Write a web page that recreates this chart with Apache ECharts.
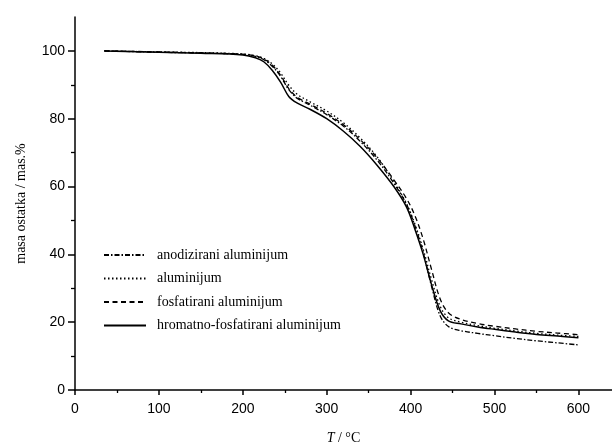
<!DOCTYPE html>
<html>
<head>
<meta charset="utf-8">
<script src="https://cdn.jsdelivr.net/npm/echarts@6/dist/echarts.min.js"></script>
<style>html,body{margin:0;padding:0;background:#fff}#c{width:612px;height:445px}</style>
</head>
<body>
<div id="c"></div>
<script>
// Temperature (°C)
var temperature = [35, 100, 150, 200, 215, 225, 235, 245, 255, 265, 280, 300, 320, 340, 360, 380, 395, 405, 415, 425, 435, 445, 460, 480, 500, 525, 550, 575, 600];
// Residual mass (mas.%)
var anodizirani = [100, 99.6, 99.4, 99.0, 98.4, 97.4, 95.5, 92.5, 88.5, 86.0, 84.0, 81.2, 77.8, 73.3, 67.8, 61.0, 54.8, 48.5, 40.5, 30.5, 22.0, 18.7, 17.5, 16.7, 16.0, 15.2, 14.5, 13.9, 13.3];
var aluminijum = [100, 99.7, 99.5, 99.1, 98.6, 97.8, 96.2, 93.5, 89.8, 87.2, 85.0, 82.3, 78.8, 74.3, 68.8, 61.5, 55.0, 49.0, 41.5, 32.5, 24.8, 21.3, 20.0, 19.0, 18.2, 17.4, 16.7, 16.2, 15.8];
var fosfatirani = [100, 99.7, 99.4, 99.0, 98.5, 97.6, 95.8, 92.8, 88.8, 86.3, 84.3, 81.6, 78.2, 73.8, 68.5, 62.0, 56.5, 51.5, 44.5, 35.5, 27.0, 22.8, 20.8, 19.6, 18.8, 18.0, 17.3, 16.8, 16.3];
var hromatno = [100, 99.6, 99.3, 98.8, 98.0, 96.8, 94.3, 90.8, 86.5, 84.6, 82.8, 80.0, 76.3, 71.8, 66.3, 60.0, 54.0, 47.5, 40.0, 31.0, 23.5, 20.4, 19.5, 18.6, 17.9, 17.1, 16.4, 15.9, 15.4];
var seriesNames = ['anodizirani aluminijum', 'aluminijum', 'fosfatirani aluminijum', 'hromatno-fosfatirani aluminijum'];
var xTicks = [0, 100, 200, 300, 400, 500, 600];
var xMinorTicks = [50, 150, 250, 350, 450, 550];
var yTicks = [0, 20, 40, 60, 80, 100];
var yMinorTicks = [10, 30, 50, 70, 90];

function pairs(vals) { return temperature.map(function (t, i) { return [t, vals[i]]; }); }

var chart = echarts.init(document.getElementById('c'), null, {renderer: 'canvas'});
var lab = {color: '#000', fontFamily: 'Liberation Sans, Arial, sans-serif', fontSize: 14};
var axLine = {show: true, lineStyle: {color: '#000', width: 1.5}};
var styles = [
  {type: [5, 2, 1.5, 2], width: 1.3},
  {type: [1.5, 2.5], width: 1.3},
  {type: [5, 3.5], width: 1.3},
  {type: 'solid', width: 1.5}
];
var datas = [anodizirani, aluminijum, fosfatirani, hromatno];

chart.setOption({
  animation: false,
  backgroundColor: '#fff',
  grid: {left: 75, right: 0, top: 17, bottom: 55, containLabel: false, outerBoundsMode: 'none'},
  legend: {
    orient: 'vertical', left: 98, top: 243,
    itemWidth: 42, itemHeight: 14, itemGap: 9.5,
    itemStyle: {color: 'rgba(0,0,0,0)', borderWidth: 0, opacity: 0},
    textStyle: {color: '#000', fontFamily: 'Liberation Serif, Times New Roman, serif', fontSize: 14, lineHeight: 14, padding: [0, 0, 0, 6]},
    data: seriesNames
  },
  xAxis: [{
    type: 'value', min: 0, max: 640, position: 'bottom',
    name: '{i|T} / °C', nameLocation: 'middle', nameGap: 41,
    nameTextStyle: {color: '#000', fontFamily: 'Liberation Serif, Times New Roman, serif', fontSize: 14,
      rich: {i: {fontStyle: 'italic', fontFamily: 'Liberation Serif, Times New Roman, serif', fontSize: 14, color: '#000'}}},
    axisLine: axLine,
    axisTick: {show: true, inside: false, length: 5, customValues: xTicks, lineStyle: {color: '#000', width: 1.5}},
    axisLabel: Object.assign({margin: 12, customValues: xTicks}, lab),
    splitLine: {show: false}
  }, {
    type: 'value', min: 0, max: 640, position: 'bottom', offset: 0,
    axisLine: {show: false},
    axisTick: {show: true, inside: false, length: 3, customValues: xMinorTicks, lineStyle: {color: '#000', width: 1.3}},
    axisLabel: {show: false},
    splitLine: {show: false}
  }],
  yAxis: [{
    type: 'value', min: 0, max: 110, position: 'left',
    name: 'masa ostatka / mas.%', nameLocation: 'middle', nameGap: 47,
    nameTextStyle: {color: '#000', fontFamily: 'Liberation Serif, Times New Roman, serif', fontSize: 14},
    axisLine: axLine,
    axisTick: {show: true, inside: false, length: 7, customValues: yTicks, lineStyle: {color: '#000', width: 1.5}},
    axisLabel: Object.assign({margin: 10, customValues: yTicks}, lab),
    splitLine: {show: false}
  }, {
    type: 'value', min: 0, max: 110, position: 'left', offset: 0,
    axisLine: {show: false},
    axisTick: {show: true, inside: false, length: 4, customValues: yMinorTicks, lineStyle: {color: '#000', width: 1.3}},
    axisLabel: {show: false},
    splitLine: {show: false}
  }],
  series: seriesNames.map(function (n, k) {
    return {
      name: n, type: 'line', xAxisIndex: 0, yAxisIndex: 0,
      data: pairs(datas[k]), showSymbol: false, symbol: 'none',
      smooth: 0.35,
      lineStyle: {color: '#000', width: styles[k].width, type: styles[k].type},
      itemStyle: {color: '#000'}
    };
  })
});
</script>
</body>
</html>
